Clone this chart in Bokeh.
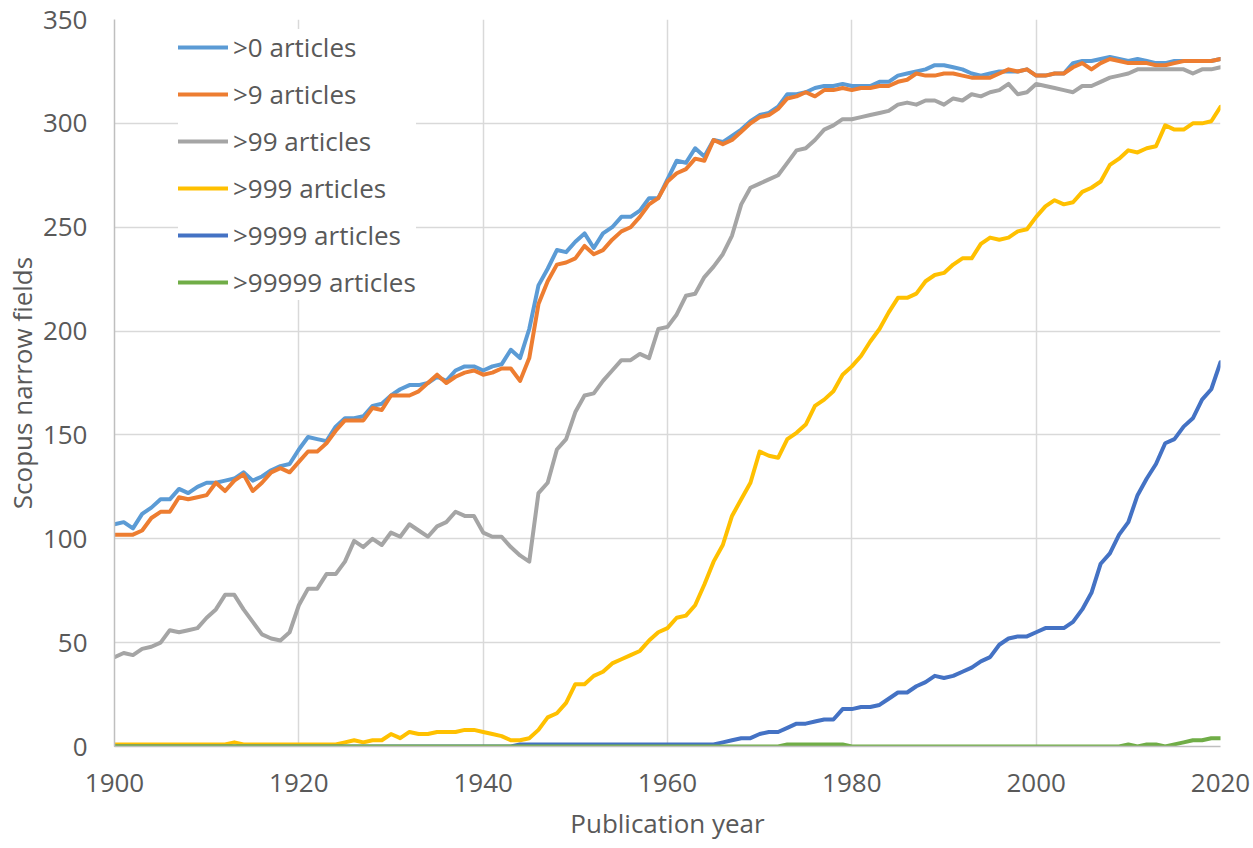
from bokeh.plotting import figure
from bokeh.models import Range1d, Legend, LegendItem, FixedTicker, ColumnDataSource
from bokeh.embed import file_html
from bokeh.resources import INLINE

years = list(range(1900, 2021))

gt0 = [107, 108, 105, 112, 115, 119, 119, 124, 122, 125,
       127, 127, 128, 129, 132, 128, 130, 133, 135, 136,
       143, 149, 148, 147, 154, 158, 158, 159, 164, 165,
       169, 172, 174, 174, 175, 178, 176, 181, 183, 183,
       181, 183, 184, 191, 187, 201, 222, 230, 239, 238,
       243, 247, 240, 247, 250, 255, 255, 258, 264, 264,
       273, 282, 281, 288, 284, 292, 291, 294, 297, 301,
       304, 305, 308, 314, 314, 315, 317, 318, 318, 319,
       318, 318, 318, 320, 320, 323, 324, 325, 326, 328,
       328, 327, 326, 324, 323, 324, 325, 325, 325, 326,
       323, 323, 324, 324, 329, 330, 330, 331, 332, 331,
       330, 331, 330, 329, 329, 330, 330, 330, 330, 330,
       331]

gt9 = [102, 102, 102, 104, 110, 113, 113, 120, 119, 120,
       121, 127, 123, 128, 131, 123, 127, 132, 134, 132,
       137, 142, 142, 146, 152, 157, 157, 157, 163, 162,
       169, 169, 169, 171, 175, 179, 175, 178, 180, 181,
       179, 180, 182, 182, 176, 187, 213, 224, 232, 233,
       235, 241, 237, 239, 244, 248, 250, 255, 261, 264,
       272, 276, 278, 283, 282, 292, 290, 292, 296, 300,
       303, 304, 307, 312, 313, 315, 313, 316, 316, 317,
       316, 317, 317, 318, 318, 320, 321, 324, 323, 323,
       324, 324, 323, 322, 322, 322, 324, 326, 325, 326,
       323, 323, 324, 324, 327, 329, 326, 329, 331, 330,
       329, 329, 329, 328, 328, 329, 330, 330, 330, 330,
       331]

gt99 = [43, 45, 44, 47, 48, 50, 56, 55, 56, 57,
        62, 66, 73, 73, 66, 60, 54, 52, 51, 55,
        68, 76, 76, 83, 83, 89, 99, 96, 100, 97,
        103, 101, 107, 104, 101, 106, 108, 113, 111, 111,
        103, 101, 101, 96, 92, 89, 122, 127, 143, 148,
        161, 169, 170, 176, 181, 186, 186, 189, 187, 201,
        202, 208, 217, 218, 226, 231, 237, 246, 261, 269,
        271, 273, 275, 281, 287, 288, 292, 297, 299, 302,
        302, 303, 304, 305, 306, 309, 310, 309, 311, 311,
        309, 312, 311, 314, 313, 315, 316, 319, 314, 315,
        319, 318, 317, 316, 315, 318, 318, 320, 322, 323,
        324, 326, 326, 326, 326, 326, 326, 324, 326, 326,
        327]

gt999 = [1, 1, 1, 1, 1, 1, 1, 1, 1, 1,
         1, 1, 1, 2, 1, 1, 1, 1, 1, 1,
         1, 1, 1, 1, 1, 2, 3, 2, 3, 3,
         6, 4, 7, 6, 6, 7, 7, 7, 8, 8,
         7, 6, 5, 3, 3, 4, 8, 14, 16, 21,
         30, 30, 34, 36, 40, 42, 44, 46, 51, 55,
         57, 62, 63, 68, 78, 89, 97, 111, 119, 127,
         142, 140, 139, 148, 151, 155, 164, 167, 171, 179,
         183, 188, 195, 201, 209, 216, 216, 218, 224, 227,
         228, 232, 235, 235, 242, 245, 244, 245, 248, 249,
         255, 260, 263, 261, 262, 267, 269, 272, 280, 283,
         287, 286, 288, 289, 299, 297, 297, 300, 300, 301,
         308]

gt9999 = [0, 0, 0, 0, 0, 0, 0, 0, 0, 0,
          0, 0, 0, 0, 0, 0, 0, 0, 0, 0,
          0, 0, 0, 0, 0, 0, 0, 0, 0, 0,
          0, 0, 0, 0, 0, 0, 0, 0, 0, 0,
          0, 0, 0, 0, 1, 1, 1, 1, 1, 1,
          1, 1, 1, 1, 1, 1, 1, 1, 1, 1,
          1, 1, 1, 1, 1, 1, 2, 3, 4, 4,
          6, 7, 7, 9, 11, 11, 12, 13, 13, 18,
          18, 19, 19, 20, 23, 26, 26, 29, 31, 34,
          33, 34, 36, 38, 41, 43, 49, 52, 53, 53,
          55, 57, 57, 57, 60, 66, 74, 88, 93, 102,
          108, 121, 129, 136, 146, 148, 154, 158, 167, 172,
          185]

gt99999 = [0, 0, 0, 0, 0, 0, 0, 0, 0, 0,
           0, 0, 0, 0, 0, 0, 0, 0, 0, 0,
           0, 0, 0, 0, 0, 0, 0, 0, 0, 0,
           0, 0, 0, 0, 0, 0, 0, 0, 0, 0,
           0, 0, 0, 0, 0, 0, 0, 0, 0, 0,
           0, 0, 0, 0, 0, 0, 0, 0, 0, 0,
           0, 0, 0, 0, 0, 0, 0, 0, 0, 0,
           0, 0, 0, 1, 1, 1, 1, 1, 1, 1,
           0, 0, 0, 0, 0, 0, 0, 0, 0, 0,
           0, 0, 0, 0, 0, 0, 0, 0, 0, 0,
           0, 0, 0, 0, 0, 0, 0, 0, 0, 0,
           1, 0, 1, 1, 0, 1, 2, 3, 3, 4,
           4]

series_names = [">0 articles", ">9 articles", ">99 articles",
                ">999 articles", ">9999 articles", ">99999 articles"]
series_values = [gt0, gt9, gt99, gt999, gt9999, gt99999]
series_colors = ["#5B9BD5", "#ED7D31", "#A5A5A5", "#FFC000", "#4472C4", "#70AD47"]

x_ticks = [1900, 1920, 1940, 1960, 1980, 2000, 2020]
y_ticks = [0, 50, 100, 150, 200, 250, 300, 350]

FONT = "Open Sans"
TXT = "#595959"

FRAME_H = 727
p = figure(frame_width=1106, frame_height=FRAME_H,
           x_range=Range1d(1900, 2020), y_range=Range1d(0, 350),
           output_backend="svg", toolbar_location=None,
           min_border_left=106, min_border_right=31,
           min_border_top=19, min_border_bottom=98)
p.outline_line_color = None
p.background_fill_color = "white"
p.border_fill_color = "white"

src = ColumnDataSource(dict(year=years, **{f"s{i}": v for i, v in enumerate(series_values)}))

renderers = []
for i, (name, col) in enumerate(zip(series_names, series_colors)):
    r = p.line("year", f"s{i}", source=src, line_color=col, line_width=4,
               line_join="round", line_cap="round")
    renderers.append(r)

p.xaxis.ticker = FixedTicker(ticks=x_ticks)
p.yaxis.ticker = FixedTicker(ticks=y_ticks)
for ax in (p.xaxis[0], p.yaxis[0]):
    ax.major_tick_out = 0
    ax.major_tick_in = 0
    ax.minor_tick_out = 0
    ax.minor_tick_in = 0
    ax.axis_line_color = "#BFBFBF"
    ax.axis_line_width = 1.5
    ax.major_label_text_font = FONT
    ax.major_label_text_font_size = "26px"
    ax.major_label_text_color = TXT
    ax.axis_label_text_font = FONT
    ax.axis_label_text_font_size = "26px"
    ax.axis_label_text_font_style = "normal"
    ax.axis_label_text_color = TXT

p.xaxis.axis_label = "Publication year"
p.yaxis.axis_label = "Scopus narrow fields"
p.xaxis.major_label_standoff = 27
p.xaxis.axis_label_standoff = 10
p.yaxis.major_label_standoff = 27
p.yaxis.axis_label_standoff = 0

p.xgrid.grid_line_color = "#D9D9D9"
p.ygrid.grid_line_color = "#D9D9D9"
p.xgrid.grid_line_width = 1.5
p.ygrid.grid_line_width = 1.5

legend = Legend(
    items=[LegendItem(label=n, renderers=[r]) for n, r in zip(series_names, renderers)],
    location=(64, 446), padding=8, spacing=11, margin=0,
    glyph_width=50, glyph_height=36, label_height=36, label_standoff=5,
    label_text_font=FONT, label_text_font_size="26px", label_text_color=TXT,
    border_line_color=None, background_fill_color="white", background_fill_alpha=1.0,
)
p.add_layout(legend, "center")

open("out.html", "w").write(file_html(p, INLINE))
